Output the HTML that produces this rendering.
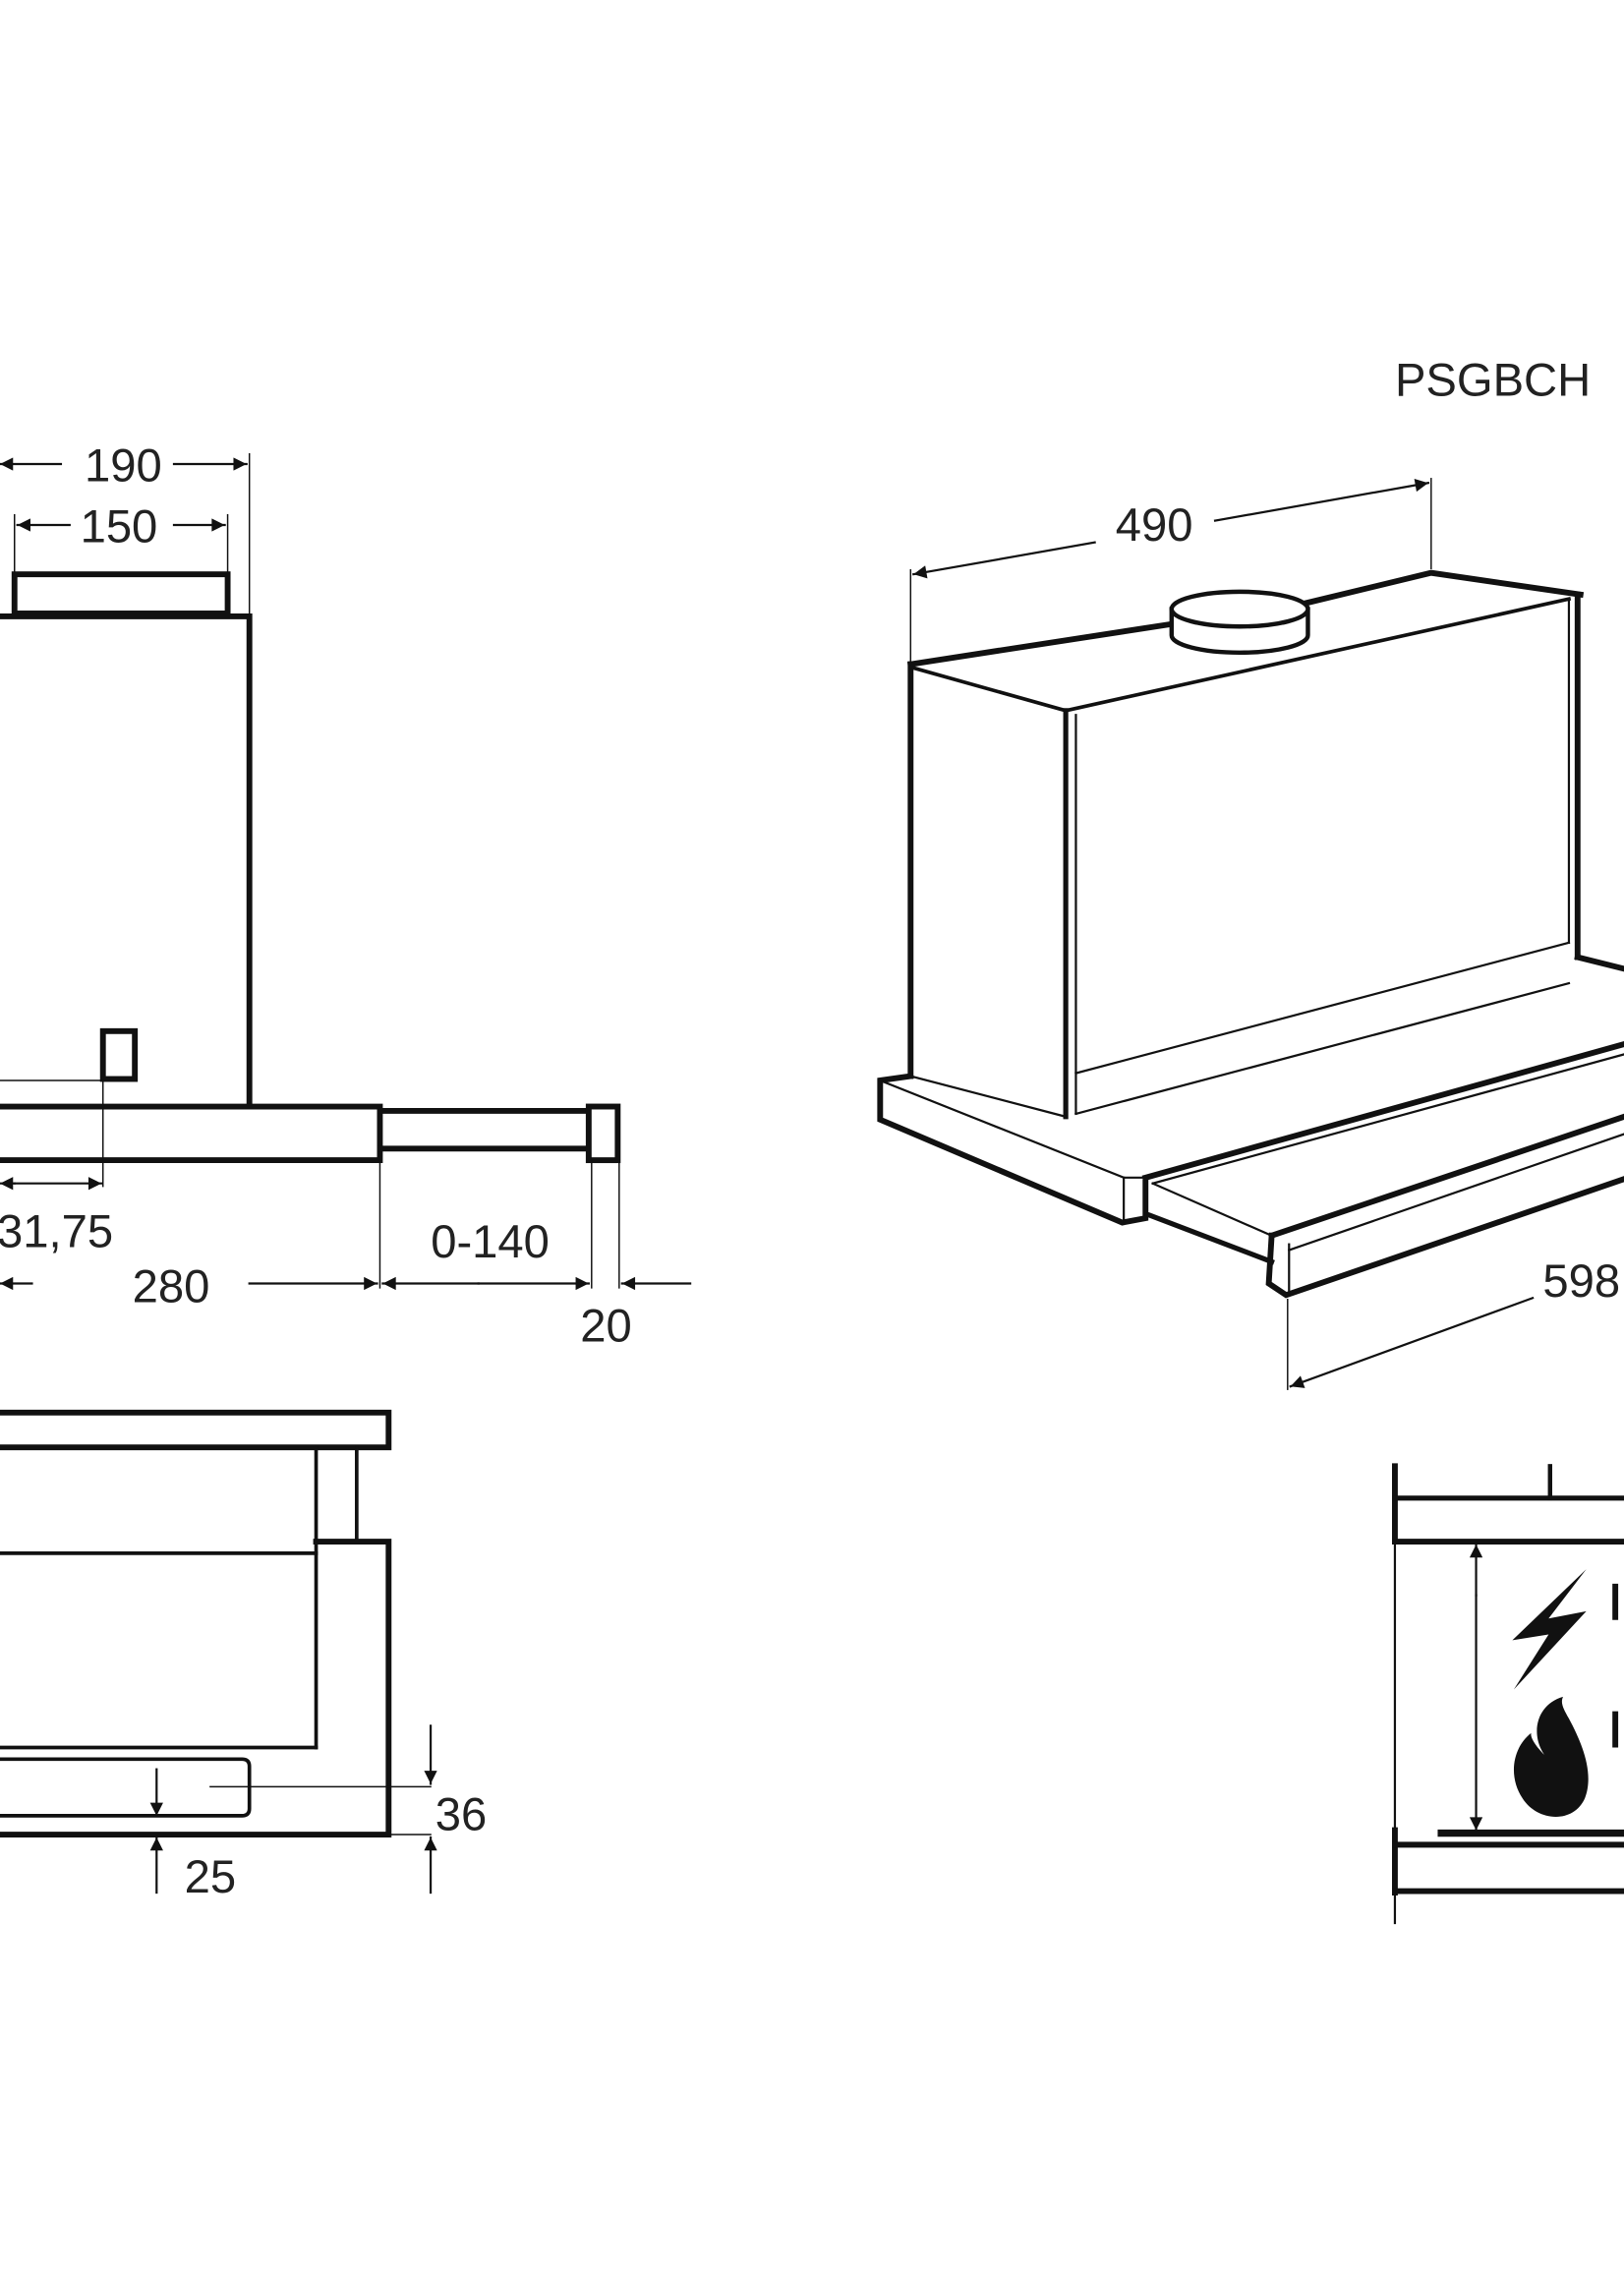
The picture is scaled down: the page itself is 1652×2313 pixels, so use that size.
<!DOCTYPE html>
<html><head><meta charset="utf-8"><style>
html,body{margin:0;padding:0;background:#fff;}
svg{display:block;}
text{font-family:"Liberation Sans",sans-serif;fill:#222;}
</style></head><body>
<svg width="1652" height="2313" viewBox="0 0 1120 1568" preserveAspectRatio="none" xmlns="http://www.w3.org/2000/svg">
<defs>
<marker id="a" viewBox="0 0 10 10" refX="10" refY="5" markerWidth="20" markerHeight="9" markerUnits="userSpaceOnUse" orient="auto"><path d="M0,0 L10,5 L0,10 z" fill="#111"/></marker>
</defs>
<g stroke="#111" fill="none" stroke-linecap="square">
<!-- left top view -->
<line x1="172" y1="313" x2="172" y2="425" stroke-width="1"/>
<line x1="10" y1="355" x2="10" y2="395" stroke-width="1"/>
<line x1="157" y1="355" x2="157" y2="395" stroke-width="1"/>
<line x1="42" y1="320" x2="0" y2="320" stroke-width="1.5" marker-end="url(#a)"/>
<line x1="120" y1="320" x2="170" y2="320" stroke-width="1.5" marker-end="url(#a)"/>
<line x1="48" y1="362" x2="12" y2="362" stroke-width="1.5" marker-end="url(#a)"/>
<line x1="120" y1="362" x2="155" y2="362" stroke-width="1.5" marker-end="url(#a)"/>
<rect x="10" y="396" width="147" height="27" stroke-width="4"/>
<polyline points="0,425 172,425 172,762" stroke-width="4"/>
<rect x="71" y="711" width="22" height="33" stroke-width="4"/>
<line x1="0" y1="745" x2="71" y2="745" stroke-width="1"/>
<line x1="71" y1="745" x2="71" y2="818" stroke-width="1"/>
<polyline points="0,763 262,763 262,800 0,800" stroke-width="4"/>
<line x1="262" y1="766" x2="405" y2="766" stroke-width="4"/>
<line x1="262" y1="792" x2="405" y2="792" stroke-width="4"/>
<rect x="406" y="763" width="20" height="37" stroke-width="4"/>
<line x1="10" y1="816" x2="0" y2="816" stroke-width="1.5" marker-end="url(#a)"/>
<line x1="10" y1="816" x2="70" y2="816" stroke-width="1.5" marker-end="url(#a)"/>
<line x1="262" y1="800" x2="262" y2="888" stroke-width="1"/>
<line x1="408" y1="800" x2="408" y2="888" stroke-width="1"/>
<line x1="427" y1="800" x2="427" y2="888" stroke-width="1"/>
<line x1="22" y1="885" x2="0" y2="885" stroke-width="1.5" marker-end="url(#a)"/>
<line x1="172" y1="885" x2="260" y2="885" stroke-width="1.5" marker-end="url(#a)"/>
<line x1="330" y1="885" x2="264" y2="885" stroke-width="1.5" marker-end="url(#a)"/>
<line x1="330" y1="885" x2="406" y2="885" stroke-width="1.5" marker-end="url(#a)"/>
<line x1="476" y1="885" x2="429" y2="885" stroke-width="1.5" marker-end="url(#a)"/>

<!-- left bottom view -->
<polyline points="0,974 268,974 268,998 0,998" stroke-width="4"/>
<line x1="218" y1="998" x2="218" y2="1205" stroke-width="2.5"/>
<line x1="246" y1="998" x2="246" y2="1063" stroke-width="2.5"/>
<polyline points="218,1063 268,1063 268,1265 0,1265" stroke-width="4"/>
<line x1="0" y1="1071" x2="218" y2="1071" stroke-width="2.5"/>
<line x1="0" y1="1205" x2="218" y2="1205" stroke-width="2.5"/>
<path d="M0,1213 H167 Q172,1213 172,1218 V1247 Q172,1252 167,1252 H0" stroke-width="2.5"/>
<line x1="145" y1="1232" x2="297" y2="1232" stroke-width="1"/>
<line x1="268" y1="1265" x2="297" y2="1265" stroke-width="1"/>
<line x1="108" y1="1220" x2="108" y2="1252" stroke-width="1.5" marker-end="url(#a)"/>
<line x1="108" y1="1305" x2="108" y2="1267" stroke-width="1.5" marker-end="url(#a)"/>
<line x1="297" y1="1190" x2="297" y2="1230" stroke-width="1.5" marker-end="url(#a)"/>
<line x1="297" y1="1305" x2="297" y2="1267" stroke-width="1.5" marker-end="url(#a)"/>

<!-- right isometric -->
<line x1="628" y1="393" x2="628" y2="456" stroke-width="1"/>
<line x1="987" y1="330" x2="987" y2="392" stroke-width="1"/>
<line x1="755" y1="374" x2="630" y2="396" stroke-width="1.5" marker-end="url(#a)"/>
<line x1="838" y1="359" x2="985" y2="333" stroke-width="1.5" marker-end="url(#a)"/>
<polyline points="628,458 628,742" stroke-width="4"/>
<line x1="628" y1="458" x2="810" y2="430" stroke-width="4"/>
<polyline points="900,416 987,395 1090,410" stroke-width="4"/>
<path d="M808,420 V438 A47,12 0 0 0 902,438 V420" stroke-width="3" fill="#fff"/>
<ellipse cx="855" cy="420" rx="47" ry="12" stroke-width="3" fill="#fff"/>
<polyline points="628,460 735,490 1082,413" stroke-width="2.5"/>
<line x1="735" y1="490" x2="735" y2="770" stroke-width="3.5"/>
<line x1="742" y1="493" x2="742" y2="768" stroke-width="1.5"/>
<line x1="1088" y1="410" x2="1088" y2="660" stroke-width="4"/>
<line x1="1082" y1="413" x2="1082" y2="650" stroke-width="1.5"/>
<line x1="742" y1="740" x2="1082" y2="650" stroke-width="1.5"/>
<line x1="742" y1="768" x2="1082" y2="678" stroke-width="1.5"/>
<polyline points="628,742 607,745 607,772 774,843 790,840 790,815" stroke-width="4"/>
<polyline points="607,745 775,812 790,812" stroke-width="1.5"/>
<line x1="775" y1="812" x2="775" y2="842" stroke-width="1.5"/>
<line x1="628" y1="742" x2="735" y2="770" stroke-width="1.5"/>
<line x1="1088" y1="660" x2="1120" y2="668" stroke-width="4"/>
<line x1="790" y1="812" x2="1120" y2="720" stroke-width="4"/>
<line x1="795" y1="816" x2="1120" y2="727" stroke-width="1.5"/>
<polyline points="795,816 877,852" stroke-width="1.5"/>
<polyline points="793,838 877,870" stroke-width="3.5"/>
<polyline points="877,852 875,885 887,893 1120,813" stroke-width="4"/>
<line x1="889" y1="858" x2="889" y2="893" stroke-width="1.5"/>
<line x1="877" y1="852" x2="1120" y2="770" stroke-width="4"/>
<line x1="889" y1="862" x2="1120" y2="782" stroke-width="1.5"/>
<line x1="888" y1="896" x2="888" y2="958" stroke-width="1"/>
<line x1="1057" y1="895" x2="890" y2="956" stroke-width="1.5" marker-end="url(#a)"/>

<!-- right bottom view -->
<line x1="962" y1="1011" x2="962" y2="1326" stroke-width="1.5"/>
<line x1="962" y1="1011" x2="962" y2="1063" stroke-width="4"/>
<line x1="962" y1="1262" x2="962" y2="1305" stroke-width="4"/>
<line x1="1069" y1="1011" x2="1069" y2="1033" stroke-width="3"/>
<line x1="962" y1="1033" x2="1120" y2="1033" stroke-width="3.5"/>
<line x1="962" y1="1063" x2="1120" y2="1063" stroke-width="4"/>
<line x1="962" y1="1272" x2="1120" y2="1272" stroke-width="4"/>
<line x1="962" y1="1304" x2="1120" y2="1304" stroke-width="4"/>
<line x1="994" y1="1264" x2="1120" y2="1264" stroke-width="5"/>
<line x1="1018" y1="1100" x2="1018" y2="1065" stroke-width="1.5" marker-end="url(#a)"/>
<line x1="1018" y1="1100" x2="1018" y2="1262" stroke-width="1.5" marker-end="url(#a)"/>
</g>
<path d="M1094,1082 L1043,1131 L1068,1127 L1044,1165 L1094,1111 L1068,1116 Z" fill="#111"/>
<path d="M1078,1170 C1060,1175 1055,1195 1065,1210 C1060,1205 1055,1198 1056,1195 C1043,1205 1040,1225 1050,1240 C1060,1256 1085,1258 1093,1240 C1100,1222 1090,1200 1082,1185 C1078,1178 1076,1174 1078,1170 Z" fill="#111"/>
<path d="M1114,1092 v25 M1114,1180 v25" stroke="#111" stroke-width="4"/>

<g font-size="32">
<text x="85" y="332" text-anchor="middle">190</text>
<text x="82" y="374" text-anchor="middle">150</text>
<text x="38" y="860" text-anchor="middle">31,75</text>
<text x="118" y="898" text-anchor="middle">280</text>
<text x="338" y="867" text-anchor="middle">0-140</text>
<text x="418" y="925" text-anchor="middle">20</text>
<text x="145" y="1305" text-anchor="middle">25</text>
<text x="318" y="1262" text-anchor="middle">36</text>
<text x="796" y="373" text-anchor="middle">490</text>
<text x="1064" y="894">598</text>
<text x="962" y="273">PSGBCH</text>
</g>
</svg>
</body></html>
